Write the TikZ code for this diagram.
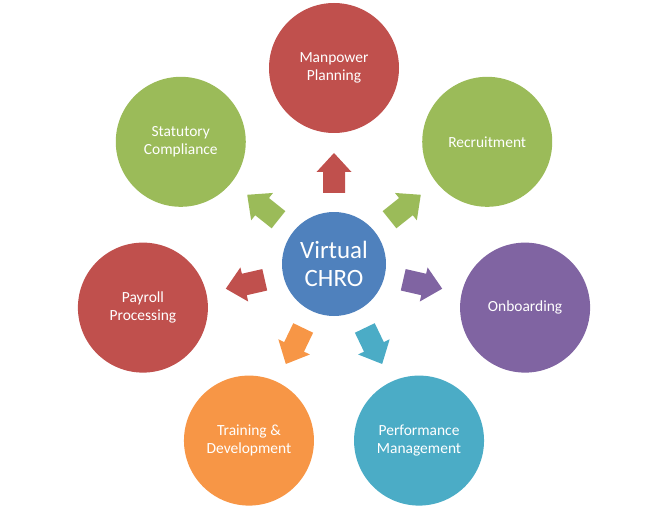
\documentclass[tikz,border=0pt]{standalone}
\usepackage{fontspec}
\setmainfont{Carlito}
\usepackage{xcolor}
\usepackage{tikz}
\usetikzlibrary{calc}

\definecolor{chroblue}{HTML}{4F81BD}
\definecolor{hrred}{HTML}{C0504D}
\definecolor{hrgreen}{HTML}{9BBB59}
\definecolor{hrpurple}{HTML}{8064A2}
\definecolor{hrteal}{HTML}{4BACC6}
\definecolor{hrorange}{HTML}{F79646}

\begin{document}
\begin{tikzpicture}[x=0.75pt, y=0.75pt,
	bubble/.style={circle, minimum size=97.5pt, inner sep=0pt, align=center, text=white, font=\fontsize{11.6}{13.5}\selectfont},
	hubdisc/.style={circle, minimum size=78pt, inner sep=0pt, align=center, text=white, fill=chroblue, font=\fontsize{18.7}{21}\selectfont},
	radarrow/.pic={\fill (71,-11) -- (92,-11) -- (92,-17.5) -- (111,0) -- (92,17.5) -- (92,11) -- (71,11) -- cycle;}]
	\useasboundingbox (0,0) rectangle (668,508);
	\node[hubdisc] (hub) at (334,244) {Virtual\\CHRO};
	\node[bubble, fill=hrred] (manpower) at ($(hub)+(90:196)$) {Manpower\\Planning};
	\node[bubble, fill=hrgreen] (recruit) at ($(hub)+(38.571:196)$) {Recruitment};
	\node[bubble, fill=hrpurple] (onboard) at ($(hub)+(-12.857:196)$) {Onboarding};
	\node[bubble, fill=hrteal] (perform) at ($(hub)+(-64.286:196)$) {Performance\\Management};
	\node[bubble, fill=hrorange] (training) at ($(hub)+(-115.714:196)$) {Training \&\\Development};
	\node[bubble, fill=hrred] (payroll) at ($(hub)+(-167.143:196)$) {Payroll\\Processing};
	\node[bubble, fill=hrgreen] (statutory) at ($(hub)+(141.429:196)$) {Statutory\\Compliance};
	\pic[fill=hrred, rotate=90] at (hub.center) {radarrow};
	\pic[fill=hrgreen, rotate=38.571] at (hub.center) {radarrow};
	\pic[fill=hrpurple, rotate=-12.857] at (hub.center) {radarrow};
	\pic[fill=hrteal, rotate=-64.286] at (hub.center) {radarrow};
	\pic[fill=hrorange, rotate=-115.714] at (hub.center) {radarrow};
	\pic[fill=hrred, rotate=-167.143] at (hub.center) {radarrow};
	\pic[fill=hrgreen, rotate=141.429] at (hub.center) {radarrow};
\end{tikzpicture}
\end{document}
